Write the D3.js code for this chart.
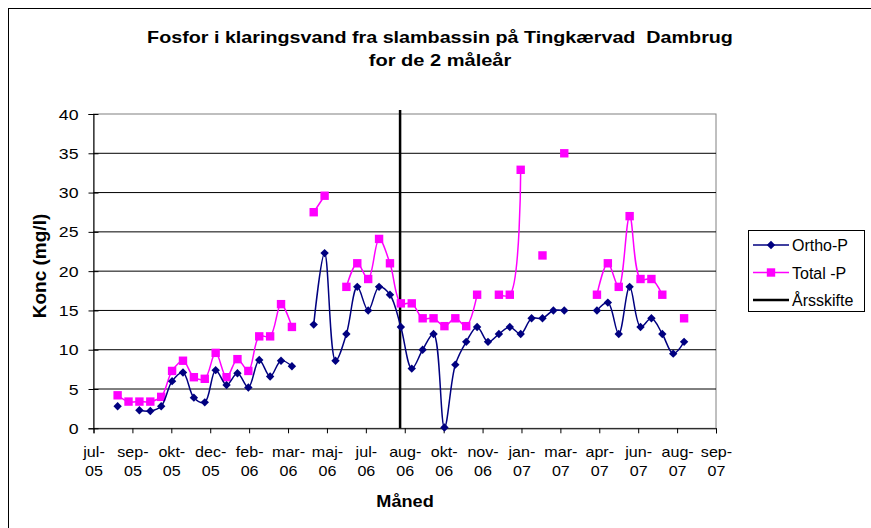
<!DOCTYPE html>
<html lang="da">
<head>
<meta charset="UTF-8">
<title>Fosfor i klaringsvand</title>
<script src="https://d3js.org/d3.v7.min.js"></script>
<style>
  body { margin: 0; background: #fff; }
  text { font-family: "Liberation Sans", Arial, sans-serif; }
</style>
</head>
<body>
<svg id="chart" width="871" height="528"></svg>
<script>
// sampling dates (every second week)
const dates = [
  "2005-08-17","2005-08-31","2005-09-14","2005-09-28","2005-10-12","2005-10-26","2005-11-09","2005-11-23",
  "2005-12-07","2005-12-21","2006-01-04","2006-01-18","2006-02-01","2006-02-15","2006-03-01","2006-03-15",
  "2006-03-29","2006-04-12","2006-04-26","2006-05-10","2006-05-24","2006-06-07","2006-06-21","2006-07-05",
  "2006-07-19","2006-08-02","2006-08-16","2006-08-30","2006-09-13","2006-09-27","2006-10-11","2006-10-25",
  "2006-11-08","2006-11-22","2006-12-06","2006-12-20","2007-01-03","2007-01-17","2007-01-31","2007-02-14",
  "2007-02-28","2007-03-14","2007-03-28","2007-04-11","2007-04-25","2007-05-09","2007-05-23","2007-06-06",
  "2007-06-20","2007-07-04","2007-07-18","2007-08-01","2007-08-15"
];
const orthoP = [
  2.8, null, 2.3, 2.2, 2.8, 6.0, 7.1, 3.9, 3.3, 7.4, 5.5, 7.0, 5.2, 8.7, 6.6, 8.6,
  7.9, null, 13.2, 22.3, 8.6, 12.0, 18.0, 15.0, 18.0, 17.0, 12.9, 7.6, 10.0, 12.0, 0.1, 8.1,
  11.0, 12.9, 11.0, 12.0, 12.9, 12.0, 14.0, 14.0, 15.0, 15.0, null, null, 15.0, 16.0, 12.0, 18.0,
  12.9, 14.0, 12.0, 9.5, 11.0
];
const totalP = [
  4.2, 3.4, 3.4, 3.4, 4.0, 7.3, 8.6, 6.5, 6.3, 9.6, 6.5, 8.8, 7.3, 11.7, 11.7, 15.8,
  12.9, null, 27.5, 29.6, null, 18.0, 21.0, 19.0, 24.1, 21.0, 15.9, 15.9, 14.0, 14.0, 13.0, 14.0,
  13.0, 17.0, null, 17.0, 17.0, 32.9, null, 22.0, null, 35.0, null, null, 17.0, 21.0, 18.0, 27.0,
  19.0, 19.0, 17.0, null, 14.0
];
const yearChange = "2006-08-15";

const tickDates = [
  "2005-07-17","2005-09-05","2005-10-25","2005-12-14","2006-02-02","2006-03-24","2006-05-13","2006-07-02",
  "2006-08-21","2006-10-10","2006-11-29","2007-01-18","2007-03-09","2007-04-28","2007-06-17","2007-08-06","2007-09-25"
];
const tickLabels = [
  "jul-05","sep-05","okt-05","dec-05","feb-06","mar-06","maj-06","jul-06",
  "aug-06","okt-06","nov-06","jan-07","mar-07","apr-07","jun-07","aug-07","sep-07"
];
const yTicks = [0, 5, 10, 15, 20, 25, 30, 35, 40];

const parse = d3.timeParse("%Y-%m-%d");
const svg = d3.select("#chart");

const plotLeft = 93.5, plotRight = 716, plotTop = 114, plotBottom = 428.3;

const x = d3.scaleTime()
  .domain([parse(tickDates[0]), parse(tickDates[tickDates.length - 1])])
  .range([plotLeft, plotRight]);
const y = d3.scaleLinear().domain([0, 40]).range([plotBottom, plotTop]);

// text helper: the original picture's lettering is a bit wider than normal Arial
function label(g, tx, ty, str, size, sx, anchor, bold) {
  return g.append("text")
    .attr("transform", `translate(${tx},${ty}) scale(${sx},1)`)
    .attr("text-anchor", anchor)
    .attr("font-size", size)
    .attr("font-weight", bold ? "bold" : "normal")
    .attr("fill", "#000")
    .attr("xml:space", "preserve")
    .text(str);
}

// outer chart frame
svg.append("rect")
  .attr("x", 8.5).attr("y", 8.5).attr("width", 880).attr("height", 540)
  .attr("fill", "none").attr("stroke", "#000").attr("stroke-width", 1);

// plot area border
svg.append("rect")
  .attr("x", plotLeft).attr("y", plotTop).attr("width", plotRight - plotLeft).attr("height", plotBottom - plotTop)
  .attr("fill", "none").attr("stroke", "#808080").attr("stroke-width", 1);

// gridlines
svg.append("g")
  .selectAll("line")
  .data(yTicks.filter(v => v > 0 && v < 40))
  .join("line")
  .attr("x1", plotLeft).attr("x2", plotRight)
  .attr("y1", d => y(d)).attr("y2", d => y(d))
  .attr("stroke", "#000").attr("stroke-width", 1);

// y axis
const yAxis = svg.append("g")
  .attr("transform", `translate(${plotLeft},0)`)
  .call(d3.axisLeft(y).tickValues(yTicks).tickSize(5).tickFormat(""));
yAxis.select(".domain").attr("stroke", "#000");
yAxis.selectAll(".tick line").attr("x2", 5).attr("x1", -5);
const yl = svg.append("g");
yTicks.forEach(v => label(yl, 78.5, y(v) + 5.5, String(v), 15, 1.18, "end", false));

// x axis
const xAxis = svg.append("g")
  .attr("transform", `translate(0,${plotBottom})`)
  .call(d3.axisBottom(x).tickValues(tickDates.map(parse)).tickSize(5).tickFormat(""));
xAxis.select(".domain").attr("stroke", "#000");

const xl = svg.append("g");
tickDates.forEach((d, i) => {
  const parts = tickLabels[i].split("-");
  label(xl, x(parse(d)) + 0.5, 457, parts[0] + "-", 14, 1.15, "middle", false);
  label(xl, x(parse(d)) + 0.5, 476, parts[1], 14, 1.15, "middle", false);
});

// year change line
svg.append("line")
  .attr("x1", x(parse(yearChange))).attr("x2", x(parse(yearChange)))
  .attr("y1", y(0)).attr("y2", y(40.5))
  .attr("stroke", "#000").attr("stroke-width", 2.5);

function drawSeries(values, color, marker) {
  const pts = dates.map((d, i) => ({ date: parse(d), v: values[i] }));
  const line = d3.line()
    .defined(d => d.v != null)
    .x(d => x(d.date)).y(d => y(d.v))
    .curve(d3.curveCatmullRom.alpha(0.5));
  svg.append("path").datum(pts)
    .attr("d", line).attr("fill", "none")
    .attr("stroke", color).attr("stroke-width", 1.5);
  const m = pts.filter(d => d.v != null);
  svg.append("g").selectAll("path").data(m).join("path")
    .attr("transform", d => `translate(${x(d.date)},${y(d.v)})`)
    .attr("d", marker)
    .attr("fill", color);
}

const diamond = "M0,-4.2L4.2,0L0,4.2L-4.2,0Z";
const square = "M-4.2,-4.2H4.2V4.2H-4.2Z";
drawSeries(totalP, "#ff00ff", square);
drawSeries(orthoP, "#000080", diamond);

// titles
const tg = svg.append("g");
label(tg, 440, 43, "Fosfor i klaringsvand fra slambassin på Tingkærvad  Dambrug", 17, 1.16, "middle", true);
label(tg, 440, 66, "for de 2 måleår", 17, 1.18, "middle", true);
label(tg, 405, 507, "Måned", 16.5, 1.1, "middle", true);

svg.append("text").attr("transform", "translate(46,266) rotate(-90)").attr("text-anchor", "middle")
  .attr("font-size", 19).attr("font-weight", "bold").text("Konc (mg/l)");

// legend
const lg = svg.append("g");
lg.append("rect").attr("x", 748.5).attr("y", 230.5).attr("width", 116).attr("height", 81)
  .attr("fill", "#fff").attr("stroke", "#000");
const legendItems = [
  { name: "Ortho-P", color: "#000080", marker: diamond, w: 1.5 },
  { name: "Total -P", color: "#ff00ff", marker: square, w: 1.5 },
  { name: "Årsskifte", color: "#000", marker: null, w: 2.5 }
];
legendItems.forEach((it, i) => {
  const ly = 245 + i * 27.5;
  lg.append("line").attr("x1", 753).attr("x2", 789).attr("y1", ly).attr("y2", ly)
    .attr("stroke", it.color).attr("stroke-width", it.w);
  if (it.marker) {
    lg.append("path").attr("transform", `translate(771,${ly})`).attr("d", it.marker).attr("fill", it.color);
  }
  label(lg, 792, ly + 6, it.name, 16, 1.0, "start", false);
});
</script>
</body>
</html>
